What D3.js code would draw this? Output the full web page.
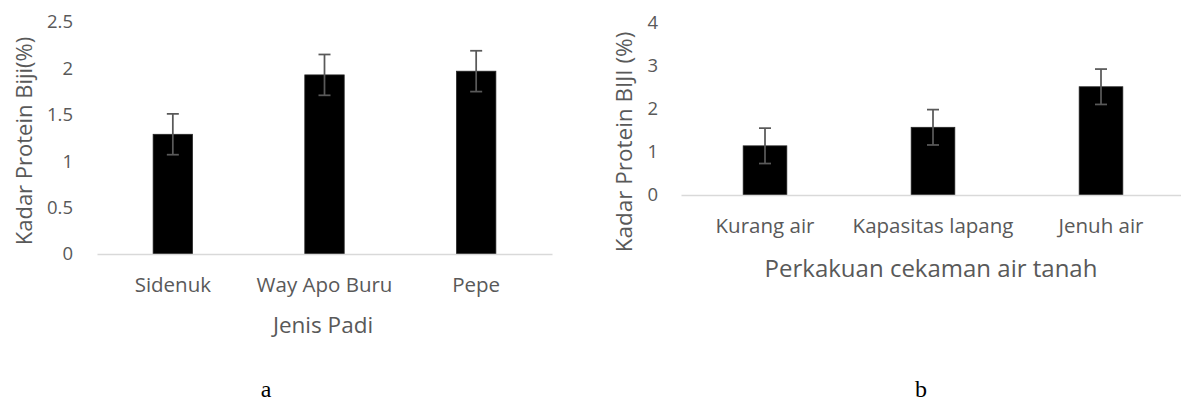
<!DOCTYPE html>
<html>
<head>
<meta charset="utf-8">
<script src="https://cdn.jsdelivr.net/npm/d3@7"></script>
<style>
  body { margin: 0; background: #fff; }
  text { font-family: "Open Sans", sans-serif; fill: #595959; }
</style>
</head>
<body>
<svg id="graph"></svg>
<script>
// chart a
var catsA = ["Sidenuk", "Way Apo Buru", "Pepe"];
var valsA = [1.29, 1.93, 1.97];
var errA = [0.22, 0.22, 0.22];
var ticksA = [0, 0.5, 1, 1.5, 2, 2.5];

// chart b
var catsB = ["Kurang air", "Kapasitas lapang", "Jenuh air"];
var valsB = [1.14, 1.57, 2.51];
var errB = [0.41, 0.41, 0.41];
var ticksB = [0, 1, 2, 3, 4];

var svg = d3.select("#graph")
    .attr("width", 1181)
    .attr("height", 403);

function drawChart(opt) {
  var data = opt.cats.map(function(c, i) {
    return {cat: c, value: opt.vals[i], err: opt.errs[i]};
  });

  var x = d3.scaleBand().domain(opt.cats).range(opt.xr).paddingInner(0.74).paddingOuter(0.37),
      y = d3.scaleLinear().domain([0, d3.max(opt.ticks)]).range(opt.yr);

  var g = svg.append("g");

  // y axis labels only
  var yaxis = g.append("g")
      .attr("transform", "translate(" + opt.xr[0] + ",0)")
      .call(d3.axisLeft(y).tickValues(opt.ticks).tickFormat(d3.format("~g")).tickSize(0).tickPadding(opt.ypad));
  yaxis.select(".domain").remove();
  yaxis.selectAll("text")
      .style("font-size", "18.5px")
      .attr("fill", "#595959");

  // bars
  g.selectAll(".bar")
    .data(data)
    .enter().append("rect")
      .attr("class", "bar")
      .attr("x", function(d) { return x(d.cat); })
      .attr("y", function(d) { return y(d.value); })
      .attr("width", x.bandwidth())
      .attr("height", function(d) { return y(0) - y(d.value); })
      .attr("fill", "#000")
      .attr("stroke", "#262626")
      .attr("stroke-width", 0.75);

  // x axis
  var xaxis = g.append("g")
      .attr("transform", "translate(0," + y(0) + ")")
      .call(d3.axisBottom(x).tickSize(0).tickPadding(23).tickSizeOuter(0));
  xaxis.select(".domain")
      .attr("stroke", "#d9d9d9")
      .attr("stroke-width", 1.5);
  xaxis.selectAll("text")
      .style("font-size", "20.5px")
      .attr("fill", "#595959");

  // error bars
  var eb = g.selectAll(".err")
    .data(data)
    .enter().append("g")
      .attr("class", "err")
      .attr("stroke", "#595959")
      .attr("stroke-width", 1.75);
  var cx = function(d) { return x(d.cat) + x.bandwidth() / 2; };
  eb.append("line")
      .attr("x1", cx).attr("x2", cx)
      .attr("y1", function(d) { return y(d.value + d.err); })
      .attr("y2", function(d) { return y(d.value - d.err); });
  eb.append("line")
      .attr("x1", function(d) { return cx(d) - 6; })
      .attr("x2", function(d) { return cx(d) + 6; })
      .attr("y1", function(d) { return y(d.value + d.err); })
      .attr("y2", function(d) { return y(d.value + d.err); });
  eb.append("line")
      .attr("x1", function(d) { return cx(d) - 6; })
      .attr("x2", function(d) { return cx(d) + 6; })
      .attr("y1", function(d) { return y(d.value - d.err); })
      .attr("y2", function(d) { return y(d.value - d.err); });

  // axis titles
  g.append("text")
      .attr("x", opt.xt[0]).attr("y", opt.xt[1])
      .attr("text-anchor", "middle")
      .attr("dominant-baseline", "central")
      .style("font-size", opt.xt[2] + "px")
      .text(opt.xtitle);

  g.append("text")
      .attr("transform", "translate(" + opt.yt[0] + "," + opt.yt[1] + ") rotate(-90)")
      .attr("text-anchor", "middle")
      .attr("dominant-baseline", "central")
      .style("font-size", opt.yt[2] + "px")
      .text(opt.ytitle);

  // panel letter
  svg.append("text")
      .attr("x", opt.letter[0]).attr("y", opt.letter[1])
      .attr("text-anchor", "middle")
      .style("font-family", "'Liberation Serif', serif")
      .style("font-size", "24px")
      .style("fill", "#000")
      .text(opt.letter[2]);
}

drawChart({
  cats: catsA, vals: valsA, errs: errA, ticks: ticksA,
  xr: [97, 552], yr: [254, 22], ypad: 24,
  xtitle: "Jenis Padi", xt: [323, 324, 22.5],
  ytitle: "Kadar Protein Biji(%)", yt: [23, 141, 22],
  letter: [266, 397, "a"]
});

drawChart({
  cats: catsB, vals: valsB, errs: errB, ticks: ticksB,
  xr: [681, 1185], yr: [195, 22.5], ypad: 23,
  xtitle: "Perkakuan cekaman air tanah", xt: [931, 267, 24],
  ytitle: "Kadar Protein BIJI (%)", yt: [623, 142, 22.5],
  letter: [921, 397, "b"]
});
</script>
</body>
</html>
